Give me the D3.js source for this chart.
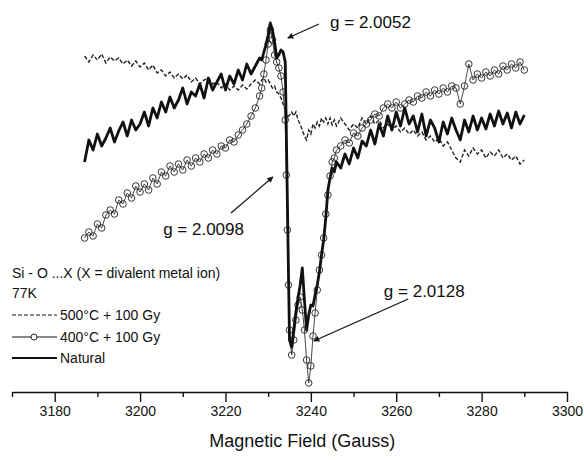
<!DOCTYPE html>
<html>
<head>
<meta charset="utf-8">
<title>EPR spectra</title>
<style>
  body { margin: 0; background: #fff; }
  svg { font-family: "Liberation Sans", Arial, sans-serif; }
  .axis path, .axis line { stroke: #111; stroke-width: 1.4; }
  .axis text { font-size: 14px; fill: #111; }
</style>
</head>
<body>
<div id="chart"></div>
<script src="https://cdnjs.cloudflare.com/ajax/libs/d3/7.8.5/d3.min.js"></script>
<script>
// magnetic field (Gauss) at which the spectra were read
var field = [3187,3188,3189,3190,3191,3192,3193,3194,3195,3196,3197,3198,3199,3200,3201,3202,3203,3204,3205,3206,3207,3208,3209,3210,3211,3212,3213,3214,3215,3216,3217,3218,3219,3220,3221,3222,3223,3224,3225,3226,3227,3228,
  3228.5,3229,3229.5,3230,3230.5,3231,3231.5,3232,3232.5,3233,3233.5,3234,3234.25,3234.5,3234.75,
  3235,3235.5,3236,3236.5,3237,3237.5,3238,3238.5,3239,3239.5,3240,3240.5,3241,3241.5,3242,3242.5,3243,3243.5,3244,3244.5,3245,3245.5,3246,
  3247,3248,3249,3250,3251,3252,3253,3254,3255,3256,3257,3258,3259,3260,3261,3262,3263,3264,3265,3266,3267,3268,3269,3270,3271,3272,3273,3274,3275,3276,3277,3278,3279,3280,3281,3282,3283,3284,3285,3286,3287,3288,3289,3290];

// signal intensity (a.u.)
var natural = [13.8,16.0,15.0,16.6,15.4,16.2,17.2,15.8,16.9,17.8,16.4,18.0,17.0,17.6,18.8,17.4,19.2,18.2,19.8,18.8,20.3,19.2,20.0,21.2,19.6,20.8,20.4,21.6,20.2,22.2,21.0,21.8,22.6,21.0,22.4,21.6,23.0,22.0,23.6,22.6,23.4,24.2,
  24.0,24.8,25.5,26.5,27.7,27.0,25.8,24.2,24.5,25.0,24.8,23.8,17.0,10.0,3.0,
  -4.0,-4.7,-3.0,-1.2,0.2,1.5,3.2,0.0,-3.0,-1.5,-0.5,-0.6,0.5,1.5,2.8,4.5,6.0,8.2,11.0,12.2,13.2,12.8,13.8,
  13.2,14.6,13.6,15.2,14.2,15.9,15.4,17.0,15.6,17.6,16.4,18.4,17.0,18.8,17.4,19.2,17.6,18.4,16.8,18.6,16.4,18.0,17.2,15.8,17.8,16.6,18.2,17.0,16.0,18.0,16.8,18.4,17.0,18.2,17.1,18.6,17.4,18.9,17.6,18.7,17.2,18.8,17.6,18.5];

var heated400 = [6.2,6.8,6.4,7.6,7.2,8.5,9.0,8.6,10.0,9.6,10.7,10.2,11.4,10.8,11.6,11.0,12.2,11.6,12.8,12.4,13.4,12.8,13.6,13.0,14.0,13.4,14.2,13.8,14.6,14.2,15.0,14.6,15.4,15.2,16.0,15.8,16.5,17.0,17.6,18.4,19.2,20.4,
  21.2,22.6,24.0,25.6,27.0,26.0,24.5,23.8,23.2,22.4,20.8,18.0,12.5,7.0,1.5,
  -3.0,-5.5,-4.0,-2.0,-0.5,0.3,-1.0,-3.0,-6.0,-8.3,-6.6,-3.6,-1.3,1.0,3.0,4.5,6.2,8.6,10.5,12.4,13.8,14.2,15.0,
  15.4,16.0,15.7,16.7,16.4,17.2,17.6,18.0,18.6,18.4,19.2,19.6,19.2,19.8,19.2,19.6,20.0,19.8,20.4,20.2,20.8,20.4,21.0,20.6,21.2,20.8,21.4,
  21.2,19.6,21.4,23.6,22.0,22.6,22.2,22.8,22.4,23.0,22.6,23.4,23.0,23.6,23.2,23.8,23.0];

var heated500 = [24.4,23.8,24.5,24.0,24.6,23.7,24.3,23.9,24.2,23.6,24.0,23.4,23.9,23.3,23.7,23.0,23.5,22.7,23.0,22.4,22.8,22.2,22.6,22.1,22.5,21.8,22.2,21.6,22.0,22.2,21.6,21.8,21.2,21.6,21.0,21.4,21.0,21.5,21.1,21.6,22.0,21.6,
  22.0,22.2,21.8,22.0,21.6,21.2,21.4,20.8,20.6,20.2,19.6,19.0,18.6,18.2,18.4,
  18.5,18.8,18.4,18.8,18.0,17.6,17.0,16.4,16.0,17.0,16.6,17.6,17.2,17.8,17.4,18.2,17.8,18.2,17.6,18.2,17.5,18.0,17.4,
  18.2,17.6,17.0,17.6,17.2,18.2,17.6,18.4,17.6,18.0,17.2,17.6,17.0,17.4,16.8,17.2,16.6,17.0,16.4,16.8,16.0,16.4,15.8,16.2,15.4,15.8,15.0,14.2,13.8,15.0,14.4,15.2,14.6,15.0,14.2,14.8,14.4,15.0,14.2,14.6,14.0,14.4,13.6,14.0];

var majorTicks = [3180, 3200, 3220, 3240, 3260, 3280, 3300];
var minorTicks = [3170, 3190, 3210, 3230, 3250, 3270, 3290];

var legendTitle = ["Si - O ...X (X = divalent metal ion)", "77K"];
var legendNames = ["500°C + 100 Gy", "400°C + 100 Gy", "Natural"];

// g-value labels: text anchor and arrow (tail -> head), in field / intensity units
var notes = [
  {label: "g = 2.0052", tx: 3244.5, ty: 27.2, from: [3241.9, 27.6], to: [3234.6, 26.2]},
  {label: "g = 2.0098", tx: 3205.4, ty: 6.5, from: [3221.3, 8.7], to: [3231.1, 12.3]},
  {label: "g = 2.0128", tx: 3257.1, ty: 0.3, from: [3262.8, 0.1], to: [3240.7, -4.1]}
];

var width = 584, height = 460;

var svg = d3.select("#chart").append("svg")
  .attr("width", width)
  .attr("height", height);

svg.append("rect").attr("width", width).attr("height", height).attr("fill", "#fff");

var x = d3.scaleLinear().domain([3170, 3300]).range([12, 567]);
var y = d3.scaleLinear().domain([-10, 30]).range([400, 0]);

function series(vals) {
  return field.map(function(f, i) { return {f: f, v: vals[i]}; });
}

var line = d3.line()
  .x(function(d) { return x(d.f); })
  .y(function(d) { return y(d.v); });

// 500 C dashed
svg.append("path")
  .datum(series(heated500))
  .attr("d", line)
  .attr("fill", "none")
  .attr("stroke", "#222")
  .attr("stroke-width", 1.4)
  .attr("stroke-dasharray", "4,2");

// 400 C line + open circles
var s400 = series(heated400);
svg.append("path")
  .datum(s400)
  .attr("d", line)
  .attr("fill", "none")
  .attr("stroke", "#333")
  .attr("stroke-width", 0.9);

svg.append("g").selectAll("circle")
  .data(s400).enter()
  .append("circle")
  .attr("cx", function(d) { return x(d.f); })
  .attr("cy", function(d) { return y(d.v); })
  .attr("r", 3.3)
  .attr("fill", "none")
  .attr("stroke", "#222")
  .attr("stroke-width", 0.9);

// natural, thick solid
svg.append("path")
  .datum(series(natural))
  .attr("d", line)
  .attr("fill", "none")
  .attr("stroke", "#111")
  .attr("stroke-width", 2.8)
  .attr("stroke-linejoin", "round");

// x axis
var axisY = 392;
svg.append("g")
  .attr("class", "axis")
  .attr("transform", "translate(0," + axisY + ")")
  .call(d3.axisBottom(x).tickValues(majorTicks).tickSize(10).tickSizeOuter(0).tickPadding(4).tickFormat(d3.format("d")));

var minor = svg.append("g")
  .attr("class", "axis")
  .attr("transform", "translate(0," + axisY + ")")
  .call(d3.axisBottom(x).tickValues(minorTicks).tickSize(5).tickFormat(""));
minor.select(".domain").remove();

svg.append("text")
  .attr("x", x(3238))
  .attr("y", 447)
  .attr("text-anchor", "middle")
  .style("font-size", "18px")
  .attr("fill", "#111")
  .text("Magnetic Field (Gauss)");

// arrows
svg.append("defs").append("marker")
  .attr("id", "head")
  .attr("viewBox", "0 0 10 10")
  .attr("refX", 9).attr("refY", 5)
  .attr("markerWidth", 8).attr("markerHeight", 6)
  .attr("markerUnits", "userSpaceOnUse")
  .attr("orient", "auto")
  .append("path")
  .attr("d", "M0,0L10,5L0,10z")
  .attr("fill", "#111");

var ann = svg.append("g");
notes.forEach(function(n) {
  ann.append("line")
    .attr("x1", x(n.from[0])).attr("y1", y(n.from[1]))
    .attr("x2", x(n.to[0])).attr("y2", y(n.to[1]))
    .attr("stroke", "#111")
    .attr("stroke-width", 1.2)
    .attr("marker-end", "url(#head)");
  ann.append("text")
    .attr("x", x(n.tx)).attr("y", y(n.ty))
    .style("font-size", "17px")
    .attr("fill", "#111")
    .text(n.label);
});

// legend
var lg = svg.append("g").attr("transform", "translate(12,0)");
legendTitle.forEach(function(t, i) {
  lg.append("text")
    .attr("x", 0).attr("y", 278 + i * 20)
    .style("font-size", "14px")
    .attr("fill", "#111")
    .text(t);
});

var rowY = [315, 337, 358];
legendNames.forEach(function(name, i) {
  var ly = rowY[i];
  var seg = lg.append("line")
    .attr("x1", 0).attr("x2", 45)
    .attr("y1", ly).attr("y2", ly)
    .attr("stroke", "#111");
  if (i === 0) seg.attr("stroke-width", 1.2).attr("stroke-dasharray", "4,2");
  if (i === 1) {
    seg.attr("stroke-width", 1);
    lg.append("circle").attr("cx", 22).attr("cy", ly).attr("r", 3)
      .attr("fill", "#fff").attr("stroke", "#111").attr("stroke-width", 0.9);
  }
  if (i === 2) seg.attr("stroke-width", 2);
  lg.append("text")
    .attr("x", 48).attr("y", ly + 5)
    .style("font-size", "14px")
    .attr("fill", "#111")
    .text(name);
});
</script>
</body>
</html>
